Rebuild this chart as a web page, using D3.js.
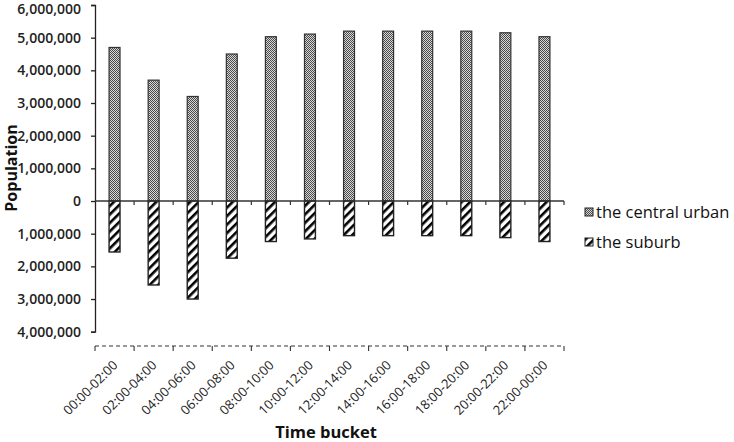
<!DOCTYPE html>
<html>
<head>
<meta charset="utf-8">
<script src="https://cdn.jsdelivr.net/npm/d3@7"></script>
<style>
  body { margin: 0; background: #fff; }
  text { font-family: "Open Sans", sans-serif; }
</style>
</head>
<body>
<div id="chart-area"></div>
<script>
// time buckets and population per bucket
var buckets = ["00:00-02:00", "02:00-04:00", "04:00-06:00", "06:00-08:00", "08:00-10:00", "10:00-12:00",
               "12:00-14:00", "14:00-16:00", "16:00-18:00", "18:00-20:00", "20:00-22:00", "22:00-00:00"];
var urban = [4700000, 3700000, 3200000, 4500000, 5030000, 5110000, 5200000, 5200000, 5200000, 5200000, 5150000, 5030000];
var suburb = [-1560000, -2570000, -3000000, -1750000, -1240000, -1160000, -1060000, -1060000, -1060000, -1060000, -1120000, -1240000];
var yTicks = [-4000000, -3000000, -2000000, -1000000, 0, 1000000, 2000000, 3000000, 4000000, 5000000, 6000000];
var seriesNames = ["the central urban", "the suburb"];

var width = 734, height = 442;
var plotLeft = 95, plotRight = 564, plotTop = 5, plotBottom = 331.7;

var svg = d3.select("#chart-area")
    .append("svg")
    .attr("width", width)
    .attr("height", height);

var defs = svg.append("defs");

// fine checker for the central urban bars
var chk = defs.append("pattern")
    .attr("id", "checker")
    .attr("patternUnits", "userSpaceOnUse")
    .attr("width", 2).attr("height", 2);
chk.append("rect").attr("width", 2).attr("height", 2).attr("fill", "#d8d8d8");
chk.append("rect").attr("width", 1).attr("height", 1).attr("fill", "#4a4a4a");
chk.append("rect").attr("x", 1).attr("y", 1).attr("width", 1).attr("height", 1).attr("fill", "#4a4a4a");

// wide diagonal stripes for the suburb bars
var str = defs.append("pattern")
    .attr("id", "stripes")
    .attr("patternUnits", "userSpaceOnUse")
    .attr("width", 6).attr("height", 6)
    .attr("patternTransform", "rotate(45)");
str.append("rect").attr("width", 6).attr("height", 6).attr("fill", "#fff");
str.append("rect").attr("width", 2.6).attr("height", 6).attr("fill", "#000");

var x = d3.scaleBand()
    .domain(buckets)
    .range([plotLeft, plotRight])
    .paddingInner(0.72)
    .paddingOuter(0.36);

var y = d3.scaleLinear()
    .domain([-4000000, 6000000])
    .range([plotBottom, plotTop]);

var fmt = d3.format(",");

// y axis
var yAxis = svg.append("g")
    .attr("transform", "translate(" + plotLeft + ",0)")
    .call(d3.axisLeft(y).tickValues(yTicks).tickSize(4).tickPadding(10)
        .tickFormat(function(d) { return fmt(Math.abs(d)); }));
yAxis.select(".domain").attr("stroke", "#222").attr("stroke-width", 1.3);
yAxis.selectAll(".tick line").attr("stroke", "#222").attr("stroke-width", 1.3);
yAxis.selectAll(".tick text")
    .attr("font-size", 14)
    .attr("font-weight", 600)
    .attr("fill", "#222")
    .style("font-family", "'Open Sans', sans-serif");
// keep the top label inside the picture
yAxis.selectAll(".tick text").filter(function(d) { return d === 6000000; }).attr("dy", "0.6em");

// bars
svg.append("g").selectAll("rect.urban")
    .data(urban)
    .enter().append("rect")
        .attr("class", "urban")
        .attr("x", function(d, i) { return x(buckets[i]); })
        .attr("width", x.bandwidth())
        .attr("y", function(d) { return y(d); })
        .attr("height", function(d) { return y(0) - y(d); })
        .attr("fill", "url(#checker)")
        .attr("stroke", "#333")
        .attr("stroke-width", 1.2);

svg.append("g").selectAll("rect.suburb")
    .data(suburb)
    .enter().append("rect")
        .attr("class", "suburb")
        .attr("x", function(d, i) { return x(buckets[i]); })
        .attr("width", x.bandwidth())
        .attr("y", y(0))
        .attr("height", function(d) { return y(d) - y(0); })
        .attr("fill", "url(#stripes)")
        .attr("stroke", "#222")
        .attr("stroke-width", 1.4);

// zero line with category boundary ticks
var zero = svg.append("g");
zero.append("line")
    .attr("x1", plotLeft).attr("x2", plotRight)
    .attr("y1", y(0)).attr("y2", y(0))
    .attr("stroke", "#333").attr("stroke-width", 1.3);
var bounds = d3.range(buckets.length + 1).map(function(i) { return plotLeft + (plotRight - plotLeft) * i / buckets.length; });
zero.selectAll("line.tk")
    .data(bounds.slice(1))
    .enter().append("line")
        .attr("class", "tk")
        .attr("x1", function(d) { return d; }).attr("x2", function(d) { return d; })
        .attr("y1", y(0)).attr("y2", y(0) + 4)
        .attr("stroke", "#333").attr("stroke-width", 1.2);

// dashed category axis below
var catY = 346;
var cat = svg.append("g");
cat.append("line")
    .attr("x1", plotLeft).attr("x2", plotRight)
    .attr("y1", catY).attr("y2", catY)
    .attr("stroke", "#333").attr("stroke-width", 1.1)
    .attr("stroke-dasharray", "4,3");
cat.selectAll("line.tk")
    .data(bounds)
    .enter().append("line")
        .attr("class", "tk")
        .attr("x1", function(d) { return d; }).attr("x2", function(d) { return d; })
        .attr("y1", catY).attr("y2", catY + 5)
        .attr("stroke", "#333").attr("stroke-width", 1.1);

cat.selectAll("text")
    .data(buckets)
    .enter().append("text")
        .attr("transform", function(d) {
            return "translate(" + (x(d) + x.bandwidth() / 2 + 4) + "," + 366 + ") rotate(-45)";
        })
        .attr("text-anchor", "end")
        .attr("font-size", 13)
        .attr("fill", "#222")
        .text(function(d) { return d; });

// axis titles
svg.append("text")
    .attr("transform", "translate(17,168) rotate(-90)")
    .attr("text-anchor", "middle")
    .attr("font-size", 16)
    .attr("font-weight", 700)
    .attr("fill", "#111")
    .text("Population");

svg.append("text")
    .attr("x", 326).attr("y", 438)
    .attr("text-anchor", "middle")
    .attr("font-size", 16.5)
    .attr("font-weight", 700)
    .attr("fill", "#111")
    .text("Time bucket");

// legend
var legend = svg.append("g");
var fills = ["url(#checker)", "url(#stripes)"];
seriesNames.forEach(function(name, i) {
    var ly = 212 + i * 30;
    legend.append("rect")
        .attr("x", 585).attr("y", ly - 4)
        .attr("width", 8).attr("height", 8)
        .attr("fill", fills[i])
        .attr("stroke", "#222").attr("stroke-width", 1);
    legend.append("text")
        .attr("x", 596).attr("y", ly + 6)
        .attr("font-size", 16.5)
        .attr("fill", "#111")
        .text(name);
});
</script>
</body>
</html>
